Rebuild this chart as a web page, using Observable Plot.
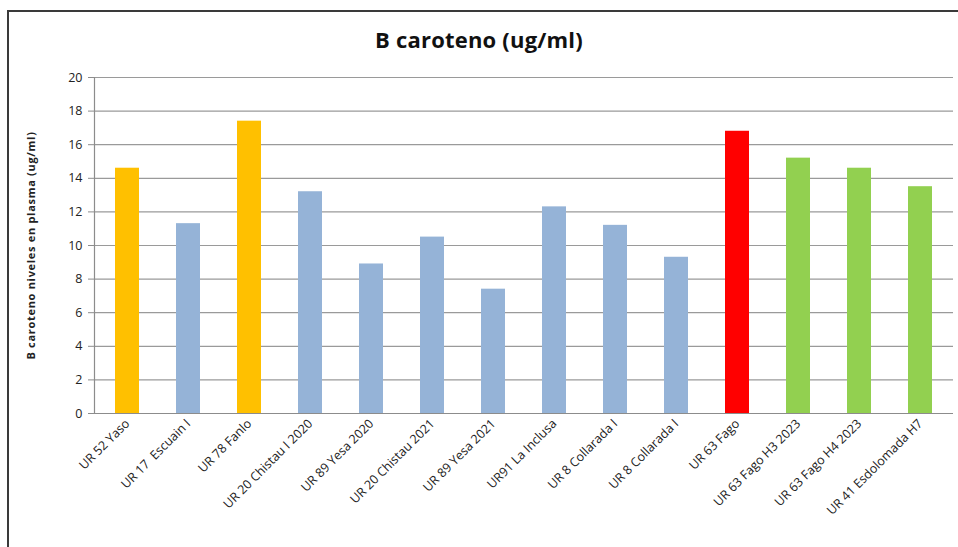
<!DOCTYPE html>
<html>
<head>
<meta charset="utf-8">
<script src="https://cdn.jsdelivr.net/npm/d3@7"></script>
<script src="https://cdn.jsdelivr.net/npm/@observablehq/plot@0.6"></script>
<style>
  html, body { margin: 0; padding: 0; background: #fff; }
  #wrap { position: relative; width: 958px; height: 547px; overflow: hidden; background: #fff; font-family: "Open Sans", sans-serif; }
  #frame { position: absolute; left: 7px; top: 10px; width: 1000px; height: 600px; border: 2px solid #3a3a3a; box-sizing: border-box; }
  #title { position: absolute; left: 0; width: 958px; top: 24px; text-align: center; font-size: 22px; font-weight: bold; color: #111; letter-spacing: 0.2px; }
  #chart { position: absolute; left: 0; top: 0; }
</style>
</head>
<body>
<div id="wrap">
  <div id="frame"></div>
  <div id="title">B caroteno (ug/ml)</div>
  <div id="chart"></div>
</div>
<script>
const labels = [
  "UR 52 Yaso", "UR 17  Escuain I", "UR 78 Fanlo", "UR 20 Chistau I 2020",
  "UR 89 Yesa 2020", "UR 20 Chistau 2021", "UR 89 Yesa 2021", "UR91 La Inclusa",
  "UR 8 Collarada I", "UR 8 Collarada I", "UR 63 Fago", "UR 63 Fago H3 2023",
  "UR 63 Fago H4 2023", "UR 41 Esdolomada H7"
];
const values = [14.6, 11.3, 17.4, 13.2, 8.9, 10.5, 7.4, 12.3, 11.2, 9.3, 16.8, 15.2, 14.6, 13.5];
const groups = ["a", "b", "a", "b", "b", "b", "b", "b", "b", "b", "c", "d", "d", "d"];
const groupNames = ["a", "b", "c", "d"];
const groupColors = ["#FFC000", "#95B3D7", "#FF0000", "#92D050"];
const yTicks = [0, 2, 4, 6, 8, 10, 12, 14, 16, 18, 20];

const data = labels.map((l, i) => ({i, label: l, value: values[i], group: groups[i]}));

const chart = Plot.plot({
  width: 958,
  height: 547,
  marginTop: 77,
  marginBottom: 134,
  marginLeft: 94,
  marginRight: 5,
  style: {fontFamily: "'Open Sans', sans-serif", fontSize: "11px", color: "#222", background: "transparent"},
  x: {domain: d3.range(labels.length), paddingInner: 0.6, paddingOuter: 0.3, align: 0.5, label: null},
  y: {domain: [0, 20], ticks: yTicks, label: null},
  color: {domain: groupNames, range: groupColors},
  marks: [
    Plot.ruleY(yTicks.filter(d => d > 0), {stroke: "#9a9a9a", strokeWidth: 1.2, strokeOpacity: 1}),
    Plot.barY(data, {x: "i", y: "value", fill: "group"}),
    Plot.ruleY([0], {stroke: "#8c8c8c", strokeWidth: 1.2}),
    Plot.frame({anchor: "left", stroke: "#8c8c8c", strokeWidth: 1.2}),
    Plot.axisY({ticks: yTicks, tickSize: 6, tickPadding: 6, stroke: "#8c8c8c", fontSize: 12.5, label: "B caroteno niveles en plasma (ug/ml)", labelAnchor: "center", labelArrow: "none", labelOffset: 67}),
    Plot.axisX({tickSize: 0, tickPadding: 8, tickRotate: -45, tickFormat: i => labels[i], fontSize: 12.5, label: null})
  ]
});

chart.querySelectorAll("g[aria-label='y-axis label'] text").forEach(t => {
  t.setAttribute("font-weight", "bold");
  t.setAttribute("font-size", "11");
  t.setAttribute("letter-spacing", "0.7");
});
document.getElementById("chart").appendChild(chart);
</script>
</body>
</html>
